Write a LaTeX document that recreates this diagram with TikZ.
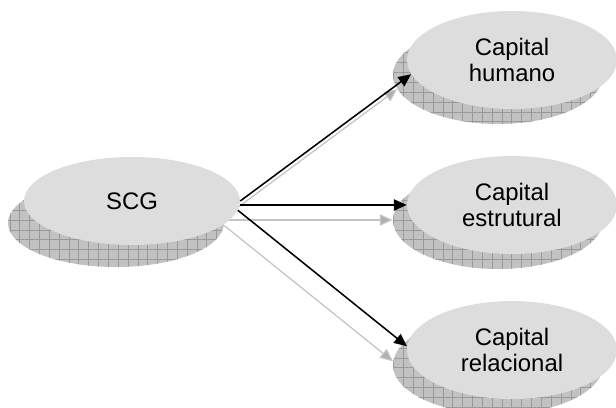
\documentclass[tikz,border=0pt]{standalone}
\usepackage{fontspec}
\setmainfont{Liberation Sans}
\usepackage{tikz}
\usetikzlibrary{arrows.meta,patterns.meta,backgrounds,shapes.geometric}

\definecolor{bubblegray}{HTML}{DDDDDD}
\definecolor{shadegray}{HTML}{C2C2C2}
\definecolor{gridgray}{HTML}{999999}
\definecolor{ghostgray}{HTML}{C4C4C4}

\tikzset{
  bubble/.style={ellipse, fill=bubblegray, draw=none, inner sep=0pt,
    align=center, font=\fontsize{17}{18.5}\selectfont},
  shadefill/.style={fill=shadegray,
    postaction={pattern={Hatch[distance=7pt,angle=0,line width=0.35pt]},
      pattern color=gridgray}},
  link/.style={line width=1.1pt, -{Triangle[length=3.2mm,width=2.8mm]}},
  ghost/.style={line width=0.9pt, ghostgray,
    -{Triangle[length=3.2mm,width=2.8mm,fill=ghostgray!90!black]}}
}

\begin{document}
\begin{tikzpicture}
             \useasboundingbox (0,0) rectangle (15.4,10.175);

             \node[bubble, minimum width=5.4cm, minimum height=2.2cm] (scg) at (3.3, 5.15) {SCG};

             \node[bubble, minimum width=5.25cm, minimum height=2.45cm] (humano) at (12.8, 8.675) {Capital\\humano};
             \node[bubble, minimum width=5.25cm, minimum height=2.45cm] (estrutural) at (12.8, 5.05) {Capital\\estrutural};
             \node[bubble, minimum width=5.25cm, minimum height=2.45cm] (relacional) at (12.8, 1.425) {Capital\\relacional};

             \begin{scope}[on background layer]
             \path[shadefill] ([shift={(-.4,-.55)}]scg.center) ellipse (2.7 and 1.1);
             \path[shadefill] ([shift={(-.35,-.375)}]humano.center) ellipse (2.625 and 1.225);
             \path[shadefill] ([shift={(-.35,-.375)}]estrutural.center) ellipse (2.625 and 1.225);
             \path[shadefill] ([shift={(-.35,-.375)}]relacional.center) ellipse (2.625 and 1.225);

             \draw[ghost] ([shift={(-.35,-.375)}]scg.east) -- ([shift={(-.35,-.375)}]humano.188);
             \draw[ghost] ([shift={(-.35,-.375)}]scg.east |- estrutural.west) -- ([shift={(-.35,-.375)}]estrutural.west);
             \draw[ghost] ([shift={(-.35,-.375)}]scg.-5) -- ([shift={(-.35,-.375)}]relacional.178);
             \end{scope}

             \draw[link] (scg.east) -- (humano.188);
             \draw[link] (scg.east |- estrutural.west) -- (estrutural.west);
             \draw[link] (scg.-5) -- (relacional.178);

\end{tikzpicture}
\end{document}
